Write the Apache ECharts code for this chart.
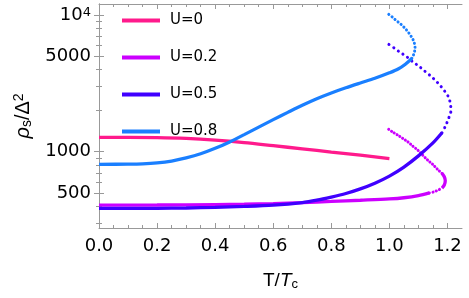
<!DOCTYPE html>
<html>
<head>
<meta charset="utf-8">
<script src="https://cdn.jsdelivr.net/npm/echarts@6/dist/echarts.min.js"></script>
<style>html,body{margin:0;padding:0;background:#fff}#c{width:469px;height:298px}</style>
</head>
<body>
<div id="c"></div>
<script>
// ---- data ----
const legendNames = ['U=0', 'U=0.2', 'U=0.5', 'U=0.8'];
const colors = ['#ff1a8c', '#cc00ff', '#4000ff', '#1a7fff'];

// U=0
const u0_T   = [0, 0.1, 0.2, 0.3, 0.4, 0.5, 0.6, 0.7, 0.8, 0.9, 1.0];
const u0_rho = [1274, 1274, 1270, 1253, 1218, 1168, 1108, 1050, 995, 943, 892];

// U=0.2 lower solid branch
const u02_T   = [0, 0.2, 0.4, 0.5, 0.6, 0.7, 0.8, 0.9, 1.0, 1.05, 1.1, 1.1375];
const u02_rho = [407, 408, 411, 413, 418, 425, 433, 442, 452, 461, 478, 500];
// U=0.2 short dotted piece
const u02d1_T   = [1.1375, 1.1546, 1.1684, 1.1811];
const u02d1_rho = [500, 510, 525, 543];
// U=0.2 solid turning piece
const u02t_T   = [1.1811, 1.189, 1.1924, 1.189, 1.1811];
const u02t_rho = [543, 571, 614, 656, 695];
// U=0.2 upper dotted branch
const u02d2_T   = [1.1811, 1.166, 1.1488, 1.1316, 1.1144, 1.0973, 1.0801, 1.0629, 1.0457, 1.0285, 1.0113, 0.9976];
const u02d2_rho = [695, 743, 809, 870, 946, 1029, 1101, 1184, 1253, 1325, 1394, 1458];

// U=0.5 solid branch
const u05_T   = [0, 0.1, 0.2, 0.3, 0.4, 0.5, 0.6, 0.7, 0.75, 0.8, 0.85, 0.9, 0.95, 1.0, 1.05, 1.1, 1.15, 1.1811];
const u05_rho = [385, 385, 386, 388, 392, 398, 407, 425, 442, 466, 495, 535, 589, 664, 773, 933, 1161, 1377];
// U=0.5 dotted branch
const u05d_T   = [1.1811, 1.1948, 1.2038, 1.2096, 1.212, 1.2107, 1.2072, 1.2017, 1.19, 1.1763, 1.1605, 1.1419, 1.1213, 1.1007, 1.0801, 1.0595, 1.0368, 1.0196, 1.0069, 0.9976];
const u05d_rho = [1377, 1568, 1755, 1877, 2019, 2185, 2389, 2556, 2780, 3024, 3290, 3579, 3894, 4236, 4553, 4955, 5336, 5668, 5933, 6106];

// U=0.8 solid branch
const u08_T   = [0, 0.1, 0.15, 0.2, 0.25, 0.3, 0.35, 0.4, 0.45, 0.5, 0.55, 0.6, 0.65, 0.7, 0.75, 0.8, 0.85, 0.9, 0.95, 1.0, 1.03, 1.055, 1.0773];
const u08_rho = [809, 811, 815, 828, 855, 902, 966, 1059, 1180, 1334, 1514, 1718, 1941, 2188, 2443, 2692, 2938, 3184, 3443, 3776, 4027, 4365, 4819];
// U=0.8 dotted branch
const u08d_T   = [1.0773, 1.0814, 1.0859, 1.0883, 1.0869, 1.0825, 1.0756, 1.0663, 1.055, 1.0423, 1.0299, 1.0172, 1.0058, 0.9976];
const u08d_rho = [4819, 5013, 5336, 5736, 6106, 6530, 6939, 7421, 7939, 8450, 8887, 9349, 9833, 10118];

// ---- axes ticks ----
const xMajor = [0, 0.2, 0.4, 0.6, 0.8, 1.0, 1.2];
const xMinor = [0.05, 0.1, 0.15, 0.25, 0.3, 0.35, 0.45, 0.5, 0.55, 0.65, 0.7, 0.75, 0.85, 0.9, 0.95, 1.05, 1.1, 1.15];
const yMajor = [500, 1000, 5000, 10000];
const yMinor = [300, 400, 600, 700, 800, 900, 2000, 3000, 4000, 6000, 7000, 8000, 9000];
const xRange = [0, 1.25];
const yRange = [277, 12030];

const frameColor = '#999';
const tickFont = 'DejaVu Sans';

function pairs(xs, ys) { return xs.map((x, i) => [x, ys[i]]); }

function xAx(pos, ticks, len, showLine, labels) {
  return {
    type: 'value', min: xRange[0], max: xRange[1], position: pos,
    axisLine: { show: showLine, onZero: false, lineStyle: { color: frameColor, width: 1 } },
    axisTick: { show: true, inside: true, length: len, customValues: ticks, lineStyle: { color: frameColor } },
    axisLabel: labels ? { show: true, customValues: ticks, formatter: v => v.toFixed(1), fontSize: 18, fontFamily: tickFont, color: '#000', margin: 9 } : { show: false },
    splitLine: { show: false }
  };
}
function yAx(pos, ticks, len, showLine, labels) {
  return {
    type: 'log', logBase: 10, min: yRange[0], max: yRange[1], position: pos,
    axisLine: { show: showLine, lineStyle: { color: frameColor, width: 1 } },
    axisTick: { show: true, inside: true, length: len, customValues: ticks, lineStyle: { color: frameColor } },
    axisLabel: labels ? {
      show: true, customValues: ticks, fontSize: 18, fontFamily: tickFont, color: '#000', margin: 8,
      formatter: v => (Math.abs(v - 10000) < 1 ? '10{sup|4}' : String(Math.round(v))),
      rich: { sup: { fontSize: 13, fontFamily: tickFont, color: '#000', verticalAlign: 'top', lineHeight: 12, padding: [0, 0, 8, 0] } }
    } : { show: false },
    splitLine: { show: false }
  };
}

const xAxes = [
  xAx('bottom', xMajor, 5, true, true),
  xAx('bottom', xMinor, 3, false, false),
  xAx('top', xMajor, 5, true, false),
  xAx('top', xMinor, 3, false, false)
];
xAxes[0].name = 'T/{it|T}{sub|c}';
xAxes[0].nameLocation = 'middle';
xAxes[0].nameGap = 42;
xAxes[0].nameTextStyle = {
  fontSize: 19, fontFamily: 'Liberation Sans', color: '#000',
  rich: { it: { fontSize: 19, fontStyle: 'italic', fontFamily: 'Liberation Sans', color: '#000' },
          sub: { fontSize: 13, fontFamily: 'Liberation Sans', color: '#000', verticalAlign: 'bottom', padding: [8, 0, 0, 0] } }
};

const yAxes = [
  yAx('left', yMajor, 5, true, true),
  yAx('left', yMinor, 3, false, false),
  yAx('right', yMajor, 5, true, false),
  yAx('right', yMinor, 3, false, false)
];
yAxes[0].name = '{it|ρ}{sub|s}/Δ{sup|2}';
yAxes[0].nameLocation = 'middle';
yAxes[0].nameRotate = 90;
yAxes[0].nameGap = 65;
yAxes[0].nameTextStyle = {
  fontSize: 20, fontFamily: 'Liberation Sans', color: '#000',
  rich: { it: { fontSize: 20, fontStyle: 'italic', fontFamily: 'Liberation Sans', color: '#000' },
          sub: { fontSize: 14, fontFamily: 'Liberation Sans', color: '#000', verticalAlign: 'bottom', padding: [8, 0, 0, 0] },
          sup: { fontSize: 14, fontFamily: 'Liberation Sans', color: '#000', verticalAlign: 'top', padding: [0, 0, 8, 0] } }
};

function solid(name, data, color) {
  return { name, type: 'line', data, xAxisIndex: 0, yAxisIndex: 0, symbol: 'none', smooth: 0.3,
    color, lineStyle: { color, width: 3.3 }, silent: true, z: 3 };
}
function dotted(name, data, color, gap) {
  return { name, type: 'line', data, xAxisIndex: 0, yAxisIndex: 0, symbol: 'none', smooth: 0.3,
    color, lineStyle: { color, width: 3, type: [0.1, gap], cap: 'round' }, silent: true, z: 3 };
}

const series = [
  solid(legendNames[0], pairs(u0_T, u0_rho), colors[0]),
  solid(legendNames[1], pairs(u02_T, u02_rho), colors[1]),
  dotted('U=0.2 b', pairs(u02d1_T, u02d1_rho), colors[1], 3.5),
  solid('U=0.2 c', pairs(u02t_T, u02t_rho), colors[1]),
  dotted('U=0.2 d', pairs(u02d2_T, u02d2_rho), colors[1], 3.2),
  solid(legendNames[2], pairs(u05_T, u05_rho), colors[2]),
  dotted('U=0.5 b', pairs(u05d_T, u05d_rho), colors[2], 5.5),
  solid(legendNames[3], pairs(u08_T, u08_rho), colors[3]),
  dotted('U=0.8 b', pairs(u08d_T, u08d_rho), colors[3], 3.8)
];

const chart = echarts.init(document.getElementById('c'), null, { renderer: 'canvas' });
chart.setOption({
  animation: false,
  backgroundColor: '#fff',
  grid: { left: 99, right: 7, top: 4, bottom: 70, containLabel: false },
  legend: {
    data: legendNames.map(n => ({ name: n, icon: 'rect' })),
    orient: 'vertical', left: 117, top: 8,
    itemWidth: 38, itemHeight: 4, itemGap: 22,
    textStyle: { fontSize: 15, fontFamily: tickFont, color: '#000', padding: [0, 0, 0, 5] },
    selectedMode: false
  },
  xAxis: xAxes,
  yAxis: yAxes,
  series
});
</script>
</body>
</html>
